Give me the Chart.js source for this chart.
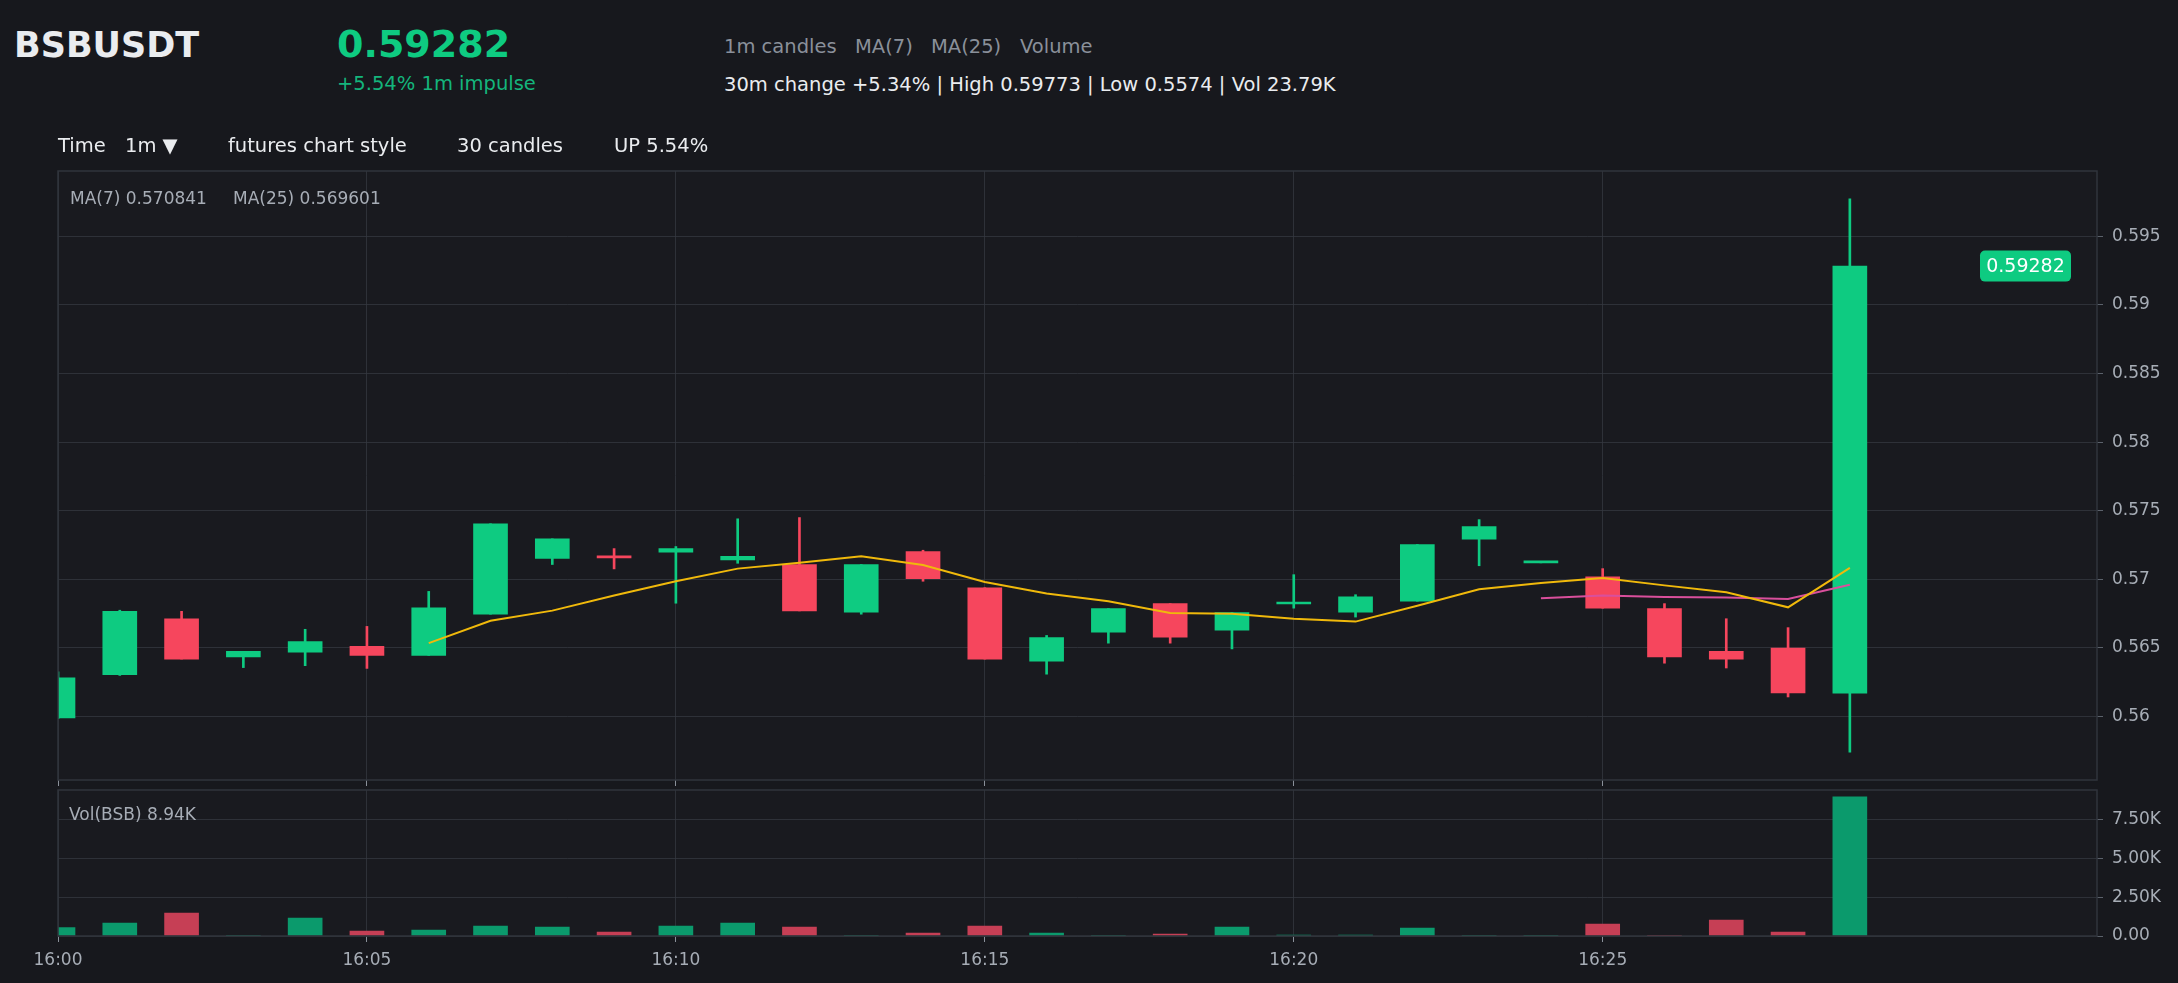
<!DOCTYPE html>
<html>
<head>
<meta charset="utf-8">
<script src="https://cdn.jsdelivr.net/npm/chart.js@4.4.0/dist/chart.umd.min.js"></script>
<style>
html, body { margin: 0; padding: 0; background: #17181d; width: 2178px; height: 983px; overflow: hidden; font-family: 'DejaVu Sans', sans-serif; }
canvas { position: absolute; left: 0; }
.t { position: absolute; line-height: 1; white-space: pre; }
</style>
</head>
<body>
<canvas id="priceChart" width="2178" height="670" style="top:140px"></canvas>
<canvas id="volChart" width="2178" height="223" style="top:760px"></canvas>

<div class="t" style="left:14px;top:28px;font-size:35px;font-weight:bold;color:#eaecef">BSBUSDT</div>
<div class="t" style="left:337px;top:25px;font-size:38px;font-weight:bold;color:#0ecb81">0.59282</div>
<div class="t" style="left:337px;top:74px;font-size:19.5px;color:#14b57c">+5.54% 1m impulse</div>
<div class="t" style="left:724px;top:37px;font-size:19.5px;color:#8a909a">1m candles</div>
<div class="t" style="left:855px;top:37px;font-size:19.5px;color:#8a909a">MA(7)</div>
<div class="t" style="left:931px;top:37px;font-size:19.5px;color:#8a909a">MA(25)</div>
<div class="t" style="left:1020px;top:37px;font-size:19.5px;color:#8a909a">Volume</div>
<div class="t" style="left:724px;top:75px;font-size:19.5px;color:#eaecef">30m change +5.34% | High 0.59773 | Low 0.5574 | Vol 23.79K</div>
<div class="t" style="left:58px;top:136px;font-size:19.5px;color:#eaecef">Time</div>
<div class="t" style="left:125px;top:136px;font-size:19.5px;color:#eaecef">1m ▼</div>
<div class="t" style="left:228px;top:136px;font-size:19.5px;color:#eaecef">futures chart style</div>
<div class="t" style="left:457px;top:136px;font-size:19.5px;color:#eaecef">30 candles</div>
<div class="t" style="left:614px;top:136px;font-size:19.5px;color:#eaecef">UP 5.54%</div>
<div class="t" style="left:70px;top:190px;font-size:17px;color:#a7adb6">MA(7) 0.570841</div>
<div class="t" style="left:233px;top:190px;font-size:17px;color:#a7adb6">MA(25) 0.569601</div>
<div class="t" style="left:69px;top:806px;font-size:17px;color:#a7adb6">Vol(BSB) 8.94K</div>

<script>
// 1m candles, 16:00 .. 16:29 (x = minutes after 16:00)
const minuteIndex = [0, 1, 2, 3, 4, 5, 6, 7, 8, 9, 10, 11, 12, 13, 14, 15, 16, 17, 18, 19, 20, 21, 22, 23, 24, 25, 26, 27, 28, 29]
const opens  = [0.55991, 0.56306, 0.56713, 0.56434, 0.56469, 0.56511, 0.56446, 0.56746, 0.57153, 0.57168,
                0.57197, 0.57141, 0.57108, 0.56761, 0.57203, 0.56939, 0.56404, 0.56615, 0.56823, 0.56630,
                0.56820, 0.56761, 0.56841, 0.57292, 0.57120, 0.57019, 0.56787, 0.56475, 0.56499, 0.56170]
const highs  = [0.56327, 0.56775, 0.56767, 0.56475, 0.56636, 0.56657, 0.56912, 0.57405, 0.57295, 0.57224,
                0.57239, 0.57441, 0.57450, 0.57108, 0.57212, 0.56939, 0.56591, 0.56787, 0.56823, 0.56758,
                0.57034, 0.56888, 0.57254, 0.57435, 0.57123, 0.57078, 0.56823, 0.56713, 0.56648, 0.59773]
const lows   = [0.55985, 0.56300, 0.56419, 0.56357, 0.56371, 0.56351, 0.56446, 0.56746, 0.57108, 0.57076,
                0.56826, 0.57117, 0.56770, 0.56746, 0.56986, 0.56419, 0.56309, 0.56535, 0.56535, 0.56493,
                0.56790, 0.56725, 0.56841, 0.57099, 0.57120, 0.56790, 0.56389, 0.56354, 0.56143, 0.55740]
const closes = [0.56282, 0.56767, 0.56419, 0.56475, 0.56547, 0.56446, 0.56793, 0.57405, 0.57295, 0.57156,
                0.57224, 0.57168, 0.56770, 0.57108, 0.57004, 0.56419, 0.56576, 0.56787, 0.56579, 0.56758,
                0.56829, 0.56873, 0.57254, 0.57384, 0.57123, 0.56790, 0.56434, 0.56419, 0.56172, 0.59282]
const volumes = [534, 833, 1474, 20, 1154, 320, 385, 641, 577, 256,
                 641, 833, 577, 10, 192, 641, 192, 10, 128, 577,
                 64, 64, 513, 20, 5, 769, 20, 1026, 256, 8940]

// moving averages as drawn (first point index given separately)
const ma7Start = 6
const ma7 = [0.56535, 0.56698, 0.56772, 0.56882, 0.56986, 0.57078, 0.57120, 0.57168, 0.57105, 0.56980,
             0.56897, 0.56841, 0.56755, 0.56749, 0.56713, 0.56692, 0.56808, 0.56927, 0.56974, 0.57010,
             0.56956, 0.56906, 0.56796, 0.57084]
const ma25Start = 24
const ma25 = [0.56862, 0.56882, 0.56871, 0.56868, 0.56856, 0.56960]

// axes
const timeTicks = [0, 5, 10, 15, 20, 25]
const timeLabels = ['16:00', '16:05', '16:10', '16:15', '16:20', '16:25']
const priceTicks = [0.56, 0.565, 0.57, 0.575, 0.58, 0.585, 0.59, 0.595]
const priceMin = 0.55538
const priceMax = 0.59975
const volTicks = [0, 2500, 5000, 7500]
const volMax = 9387
const xMax = 33

const UP = '#0ecb81'
const DOWN = '#f6465d'
const gridColor = 'rgba(52,56,64,0.78)'
const labelColor = '#a7adb6'

Chart.defaults.font.family = "'DejaVu Sans', sans-serif"
Chart.defaults.font.size = 17

var isUp = closes.map(function (c, i) { return c >= opens[i] })
var candleColors = isUp.map(function (u) { return u ? UP : DOWN })
var volColors = isUp.map(function (u) { return u ? '#0b9a6c' : '#c63f55' })

// fills the plot area, draws the frame and the last-price badge
const panelPlugin = {
    id: 'panel',
    beforeDraw(chart, args, opts) {
        var a = chart.chartArea
        chart.ctx.save()
        chart.ctx.fillStyle = opts.bg
        chart.ctx.fillRect(a.left, a.top, a.right - a.left, a.bottom - a.top)
        chart.ctx.restore()
    },
    afterDraw(chart, args, opts) {
        var ctx = chart.ctx
        var a = chart.chartArea
        ctx.save()
        ctx.strokeStyle = '#30343c'
        ctx.lineWidth = 1.5
        ctx.strokeRect(a.left, a.top, a.right - a.left, a.bottom - a.top)
        if (opts.badge) {
            var y = chart.scales.y.getPixelForValue(opts.badge)
            var w = 91, h = 31
            var x = a.right - 26 - w
            ctx.fillStyle = UP
            ctx.beginPath()
            ctx.roundRect(x, y - h / 2, w, h, 5)
            ctx.fill()
            ctx.fillStyle = '#ffffff'
            ctx.font = "19px 'DejaVu Sans'"
            ctx.textAlign = 'center'
            ctx.textBaseline = 'middle'
            ctx.fillText(opts.badge.toFixed(5), x + w / 2, y + 1)
        }
        ctx.restore()
    }
}

function timeAxis(showLabels, height) {
    return {
        type: 'linear',
        min: 0,
        max: xMax,
        offset: false,
        border: { display: false },
        grid: { color: gridColor, tickColor: '#8a909a', tickLength: 6, offset: false },
        ticks: {
            display: showLabels,
            color: labelColor,
            padding: 8,
            maxRotation: 0,
            callback: function (v) { return timeLabels[timeTicks.indexOf(v)] }
        },
        afterBuildTicks: function (scale) {
            scale.ticks = timeTicks.map(function (v) { return { value: v } })
        },
        afterFit: function (scale) { scale.height = height }
    }
}

var priceCanvas = document.getElementById('priceChart')
var priceChart = new Chart(priceCanvas, {
    type: 'bar',
    data: {
        datasets: [
            {
                type: 'line',
                data: ma7.map(function (v, i) { return { x: minuteIndex[ma7Start + i], y: v } }),
                borderColor: '#f0b90b',
                borderWidth: 2,
                pointRadius: 0,
                tension: 0
            },
            {
                type: 'line',
                data: ma25.map(function (v, i) { return { x: minuteIndex[ma25Start + i], y: v } }),
                borderColor: '#d94f9c',
                borderWidth: 2,
                pointRadius: 0,
                tension: 0
            },
            {
                data: minuteIndex.map(function (m, i) { return { x: m, y: [opens[i], closes[i]] } }),
                backgroundColor: candleColors,
                barThickness: 34,
                minBarLength: 2,
                grouped: false,
                clip: 0
            },
            {
                data: minuteIndex.map(function (m, i) { return { x: m, y: [lows[i], highs[i]] } }),
                backgroundColor: candleColors,
                barThickness: 2,
                grouped: false,
                clip: 0
            }
        ]
    },
    options: {
        responsive: false,
        animation: false,
        layout: { padding: { left: 58, top: 31, right: 0, bottom: 20 } },
        plugins: {
            legend: { display: false },
            tooltip: { enabled: false },
            panel: { bg: '#191a1f', badge: closes[closes.length - 1] }
        },
        scales: {
            x: timeAxis(false, 10),
            y: {
                position: 'right',
                min: priceMin,
                max: priceMax,
                z: 1,
                border: { display: false },
                grid: { color: gridColor, tickColor: '#5b616b', tickLength: 6 },
                ticks: {
                    color: labelColor,
                    padding: 9,
                    callback: function (v) { return String(+v.toFixed(3)) }
                },
                afterBuildTicks: function (scale) {
                    scale.ticks = priceTicks.map(function (v) { return { value: v } })
                },
                afterFit: function (scale) { scale.width = 81 }
            }
        }
    },
    plugins: [panelPlugin]
})

var volCanvas = document.getElementById('volChart')
var volChart = new Chart(volCanvas, {
    type: 'bar',
    data: {
        datasets: [{
            data: minuteIndex.map(function (m, i) { return { x: m, y: volumes[i] } }),
            backgroundColor: volColors,
            barThickness: 34,
            grouped: false,
            clip: 0
        }]
    },
    options: {
        responsive: false,
        animation: false,
        layout: { padding: { left: 58, top: 30, right: 0, bottom: 0 } },
        plugins: {
            legend: { display: false },
            tooltip: { enabled: false },
            panel: { bg: '#191a1f' }
        },
        scales: {
            x: timeAxis(true, 47),
            y: {
                position: 'right',
                min: 0,
                max: volMax,
                z: 1,
                border: { display: false },
                grid: { color: gridColor, tickColor: '#5b616b', tickLength: 6 },
                ticks: {
                    color: labelColor,
                    padding: 9,
                    callback: function (v) { return v === 0 ? '0.00' : (v / 1000).toFixed(2) + 'K' }
                },
                afterBuildTicks: function (scale) {
                    scale.ticks = volTicks.map(function (v) { return { value: v } })
                },
                afterFit: function (scale) { scale.width = 81 }
            }
        }
    },
    plugins: [panelPlugin]
})
</script>
</body>
</html>
